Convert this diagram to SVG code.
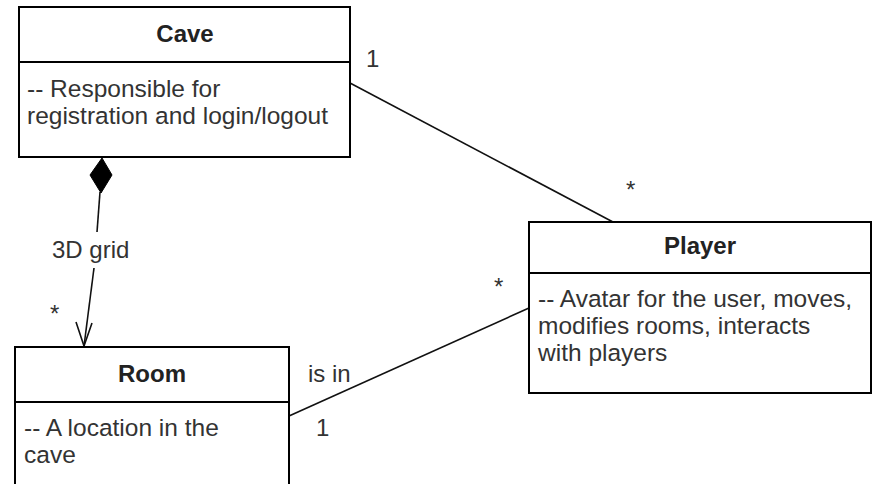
<svg xmlns="http://www.w3.org/2000/svg" width="872" height="484" viewBox="0 0 872 484">
  <style>
    .box { fill: #ffffff; stroke: #000000; stroke-width: 2; }
    .div { stroke: #000000; stroke-width: 2; }
    .title { font-family: "Liberation Sans", Arial, sans-serif; font-size: 24px; font-weight: bold; fill: #222222; text-anchor: middle; }
    .body { font-family: "Liberation Sans", Arial, sans-serif; font-size: 24.5px; fill: #333333; }
    .lbl { font-family: "Liberation Sans", Arial, sans-serif; font-size: 24px; fill: #333333; }
    .conn { stroke: #111111; stroke-width: 1.6; fill: none; }
  </style>
  <rect width="872" height="484" fill="#ffffff"/>

  <g id="connectors">
    <!-- Cave to Player association -->
    <line class="conn" x1="350" y1="83" x2="613" y2="222"/>
    <!-- Room to Player association -->
    <line class="conn" x1="289" y1="416" x2="529" y2="308"/>
    <!-- Cave composes Rooms -->
    <line class="conn" x1="100" y1="192" x2="97" y2="232"/>
    <line class="conn" x1="94" y1="268" x2="84" y2="346"/>
    <path d="M102,158 L112,175 L101,193 L90,175 Z" fill="#000000" stroke="#000000" stroke-width="1"/>
    <polyline class="conn" points="76,322 84,346 92,323"/>
    <text class="lbl" x="52" y="258">3D grid</text>
    <text class="lbl" x="50" y="322">*</text>
    <text class="lbl" x="366" y="67">1</text>
    <text class="lbl" x="626" y="198">*</text>
    <text class="lbl" x="494" y="295">*</text>
    <text class="lbl" x="308" y="382">is in</text>
    <text class="lbl" x="316" y="436">1</text>
  </g>

  <g id="cave">
    <rect class="box" x="19" y="7" width="331" height="150"/>
    <line class="div" x1="19" y1="62" x2="350" y2="62"/>
    <text class="title" x="185" y="42">Cave</text>
    <text class="body" x="27" y="97">-- Responsible for</text>
    <text class="body" x="27" y="124">registration and login/logout</text>
  </g>

  <g id="player">
    <rect class="box" x="529" y="222" width="342" height="171"/>
    <line class="div" x1="529" y1="273" x2="871" y2="273"/>
    <text class="title" x="700" y="254">Player</text>
    <text class="body" x="538" y="307">-- Avatar for the user, moves,</text>
    <text class="body" x="538" y="334">modifies rooms, interacts</text>
    <text class="body" x="538" y="361">with players</text>
  </g>

  <g id="room">
    <rect class="box" x="15" y="347" width="274" height="150"/>
    <line class="div" x1="15" y1="402" x2="289" y2="402"/>
    <text class="title" x="152" y="382">Room</text>
    <text class="body" x="24" y="436">-- A location in the</text>
    <text class="body" x="24" y="463">cave</text>
  </g>
</svg>
